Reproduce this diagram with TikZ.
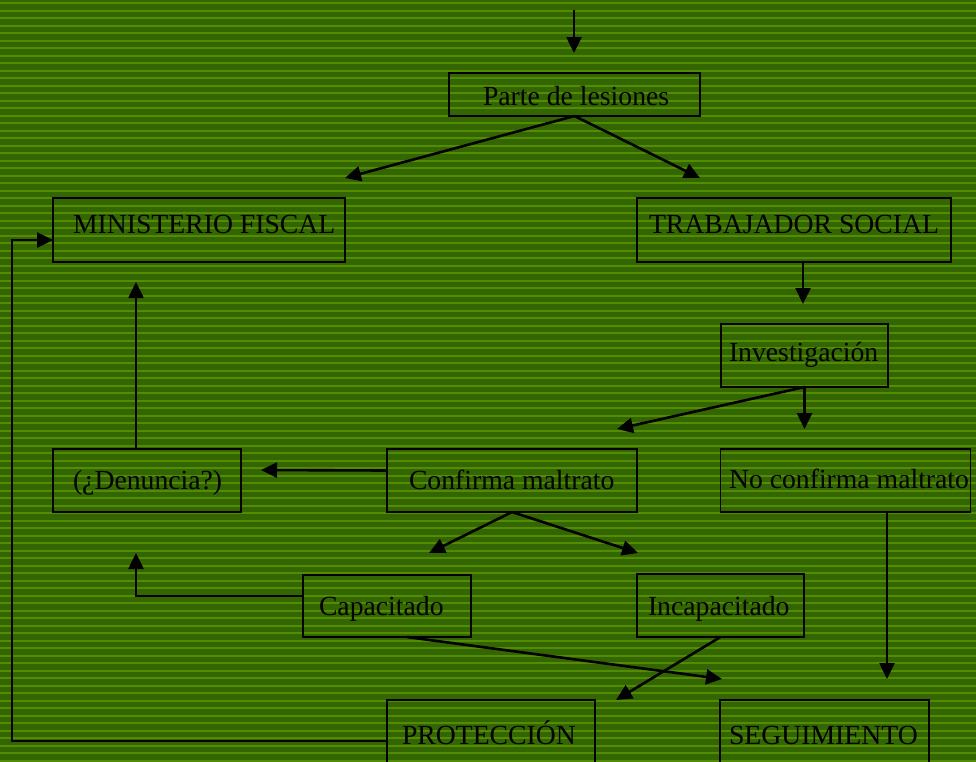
\documentclass[tikz,border=0pt]{standalone}
\usepackage{fontspec}
\setmainfont{Liberation Serif}
\usetikzlibrary{arrows.meta}
\definecolor{bgdark}{RGB}{51,102,0}
\definecolor{bgstripe}{RGB}{82,140,0}
\tikzset{
  box/.style={draw=black, line width=1.8pt, inner sep=0pt, outer sep=0pt},
  lbl/.style={inner sep=0pt, outer sep=0pt, anchor=base west, text=black, font=\fontsize{27.7}{32}\selectfont},
  arr/.style={draw=black, line width=2.6pt, -{Triangle[length=16pt,width=15pt]}},
  ln/.style={draw=black, line width=2.6pt}
}
\begin{document}
\begin{tikzpicture}[x=1pt,y=-1pt]
\useasboundingbox (0,0) rectangle (976,761);
\clip (0,0) rectangle (976,761);
\fill[bgdark] (0,0) rectangle (976,761);
\foreach \i in {0,...,101} \fill[bgstripe] (0,{\i*7.5+2}) rectangle (976,{\i*7.5+4});

% boxes
\node[box, minimum width=251pt, minimum height=43pt] (parte) at (574.5,94.5) {};
\node[box, minimum width=292pt, minimum height=64pt] (ms) at (199,230) {};
\node[box, minimum width=314pt, minimum height=64pt] (ts) at (794,230) {};
\node[box, minimum width=167pt, minimum height=63pt] (inv) at (804.5,355.5) {};
\node[box, minimum width=188pt, minimum height=63pt] (den) at (147,480.5) {};
\node[box, minimum width=250pt, minimum height=63pt] (conf) at (512,480.5) {};
\node[box, minimum width=250pt, minimum height=63pt] (noconf) at (845.5,480.5) {};
\node[box, minimum width=168pt, minimum height=62pt] (cap) at (387,606) {};
\node[box, minimum width=167pt, minimum height=63pt] (incap) at (720.5,605.5) {};
\node[box, minimum width=208pt, minimum height=82pt] (prot) at (491,741) {};
\node[box, minimum width=209pt, minimum height=82pt] (seg) at (824.5,741) {};

% labels
\node[lbl] (parteT) at (483,105) {Parte de lesiones};
\node[lbl] (msT) at (73,233) {MINISTERIO FISCAL};
\node[lbl] (tsT) at (649,233) {TRABAJADOR SOCIAL};
\node[lbl] (invT) at (729,361) {Investigación};
\node[lbl] (denT) at (73,489) {(¿Denuncia?)};
\node[lbl] (confT) at (409,489) {Confirma maltrato};
\node[lbl] (noconfT) at (729,488) {No confirma maltrato};
\node[lbl] (capT) at (319,615) {Capacitado};
\node[lbl] (incapT) at (648,615) {Incapacitado};
\node[lbl] (protT) at (402,744) {PROTECCIÓN};
\node[lbl] (segT) at (729,744) {SEGUIMIENTO};

% free ends
\coordinate (t0) at (574,10);
\coordinate (t1) at (574,53);
\coordinate (pL) at (345,178);
\coordinate (pR) at (700,178);
\coordinate (tsE) at (803,304);
\coordinate (invL) at (617,429);
\coordinate (invD) at (804.5,429);
\coordinate (confL) at (261,470);
\coordinate (denU) at (136,282);
\coordinate (confA) at (429,553);
\coordinate (confB) at (638,553);
\coordinate (capU) at (136,553);
\coordinate (capS) at (722,679);
\coordinate (incS) at (616,700);
\coordinate (ncS) at (887,679);

% connectors
\draw[arr] (t0) -- (t1);
\draw[arr] (parte.south) -- (pL);
\draw[arr] (parte.south) -- (pR);
\draw[arr] ([xshift=9pt]ts.south) -- (tsE);
\draw[arr] (inv.south) -- (invL);
\draw[arr] (inv.south) -- (invD);
\draw[arr] ([yshift=10pt]conf.west) -- (confL);
\draw[arr] ([xshift=-11pt]den.north) -- (denU);
\draw[arr] (conf.south) -- (confA);
\draw[arr] (conf.south) -- (confB);
\draw[arr] ([yshift=10pt]cap.west) -| (capU);
\draw[arr] ([xshift=20pt]cap.south) -- (capS);
\draw[arr] (incap.south) -- (incS);
\draw[arr] ([xshift=41.5pt]noconf.south) -- (ncS);
\draw[arr] (prot.west) -- (12,741) -- (12,240) -- ([yshift=-10pt]ms.west);
\end{tikzpicture}
\end{document}
